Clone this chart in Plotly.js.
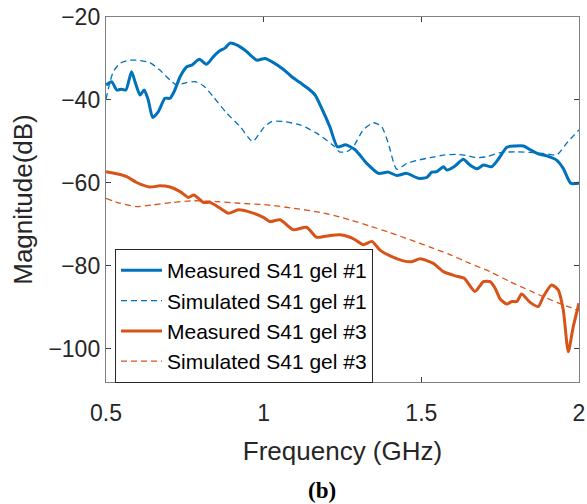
<!DOCTYPE html>
<html>
<head>
<meta charset="utf-8">
<script src="https://cdn.plot.ly/plotly-3.0.1.min.js"></script>
<style>html,body{margin:0;padding:0;background:#fff;}#chart{width:587px;height:504px;}</style>
</head>
<body>
<div id="chart"></div>
<script>
// Measured S41 gel #1
const meas1X = [0.500,0.518,0.534,0.550,0.563,0.581,0.592,0.608,0.621,0.634,0.648,0.666,0.687,0.703,0.716,0.735,0.756,0.772,0.796,0.819,0.840,0.862,0.877,0.893,0.914,0.941,0.978,1.004,1.031,1.062,1.089,1.115,1.142,1.163,1.184,1.210,1.234,1.260,1.290,1.327,1.364,1.395,1.422,1.454,1.491,1.517,1.533,1.549,1.570,1.581,1.607,1.633,1.654,1.676,1.697,1.723,1.744,1.771,1.797,1.824,1.845,1.871,1.898,1.929,1.950,1.974,2.000];
const meas1Y = [-36.4,-35.6,-37.6,-37.4,-37.6,-33.2,-35.6,-38.8,-37.6,-40,-44.2,-42.8,-39.6,-39.6,-38,-34.4,-32,-31.6,-30.2,-31.4,-29.6,-28.1,-27.5,-26.3,-26.7,-28,-30.4,-30,-31,-32.6,-34.4,-35.8,-37.3,-38.8,-42,-46.5,-51.3,-50.8,-52,-55.3,-57.7,-57.4,-58.2,-57.7,-58.9,-58.7,-57.4,-57.3,-56.1,-56.9,-55.9,-54.3,-55.7,-56.6,-55.7,-56.1,-54.3,-51.4,-51.1,-51.1,-52,-53,-53.5,-54.5,-56.5,-60.1,-60.1];

// Simulated S41 gel #1
const sim1X = [0.500,0.510,0.523,0.544,0.576,0.608,0.639,0.671,0.703,0.724,0.756,0.782,0.809,0.840,0.883,0.925,0.965,0.999,1.025,1.062,1.115,1.168,1.221,1.240,1.263,1.284,1.316,1.348,1.374,1.395,1.422,1.454,1.485,1.528,1.570,1.612,1.644,1.676,1.707,1.750,1.803,1.855,1.898,1.929,1.961,2.000];
const sim1Y = [-39.8,-36.5,-33.2,-31.2,-30.4,-30.5,-31,-32.8,-35.2,-36.4,-35.8,-35.6,-36.6,-39.2,-43.2,-46.4,-50,-46.8,-45.2,-45.2,-46,-48,-51.0,-52.5,-52.5,-51.3,-47.2,-45.5,-46.4,-50.4,-56.7,-55.3,-54.6,-53.9,-53.3,-53.1,-53.4,-53.9,-53.7,-52.7,-52.5,-52.7,-53,-53.3,-50.4,-47.2];

// Measured S41 gel #3
const meas3X = [0.500,0.534,0.566,0.597,0.640,0.671,0.703,0.735,0.761,0.779,0.809,0.830,0.862,0.888,0.920,0.967,0.999,1.020,1.052,1.094,1.136,1.168,1.200,1.242,1.274,1.290,1.316,1.343,1.369,1.401,1.443,1.470,1.496,1.538,1.570,1.607,1.636,1.670,1.697,1.718,1.734,1.750,1.771,1.787,1.803,1.818,1.845,1.871,1.887,1.913,1.934,1.950,1.966,1.982,2.000];
const meas3Y = [-57.3,-57.8,-58.5,-59.9,-61,-60.7,-61,-62.1,-63.5,-62.9,-64.7,-64.7,-66.1,-67.3,-66.5,-67.3,-68.3,-69.3,-68.9,-71.3,-70.7,-73.1,-72.8,-72.5,-73.1,-73.7,-74.9,-74.1,-76.2,-77.6,-78.8,-79.0,-78.3,-79.4,-81.4,-82.4,-83,-86.2,-83.8,-83.8,-85.4,-88,-89.2,-88.6,-88.6,-86.8,-88.8,-89.8,-87.4,-84.6,-85.8,-90.6,-100.7,-94.6,-89];

// Simulated S41 gel #3
const sim3X = [0.500,0.544,0.597,0.650,0.713,0.777,0.851,0.925,1.010,1.094,1.179,1.240,1.274,1.337,1.401,1.464,1.528,1.591,1.654,1.718,1.781,1.845,1.898,1.950,2.000];
const sim3Y = [-63.7,-64.9,-65.7,-65.3,-64.7,-64.3,-64.5,-64.9,-65.3,-66.1,-67.1,-68.2,-68.9,-70.4,-72,-73.7,-75.5,-77.3,-79.4,-81.4,-83.8,-86,-87.8,-89.4,-90.8];

const names = ['Measured S41 gel #1','Simulated S41 gel #1','Measured S41 gel #3','Simulated S41 gel #3'];
const xTicks = [0.5, 1, 1.5, 2];
const xTickText = ['0.5', '1', '1.5', '2'];
const yTicks = [-100, -80, -60, -40, -20];

const blue = '#0072BD', orange = '#D95319';
const font = 'Liberation Sans, Arial, sans-serif';

const traces = [
  {x: meas1X, y: meas1Y, name: names[0], mode: 'lines', line: {color: blue, width: 3, shape: 'spline', smoothing: 0.6}},
  {x: sim1X, y: sim1Y, name: names[1], mode: 'lines', line: {color: blue, width: 1.3, dash: '6px,4px', shape: 'spline', smoothing: 0.6}},
  {x: meas3X, y: meas3Y, name: names[2], mode: 'lines', line: {color: orange, width: 3, shape: 'spline', smoothing: 0.6}},
  {x: sim3X, y: sim3Y, name: names[3], mode: 'lines', line: {color: orange, width: 1.3, dash: '6px,4px', shape: 'spline', smoothing: 0.6}}
];

const layout = {
  width: 587, height: 504,
  margin: {l: 106, r: 8, t: 17, b: 122, pad: 0},
  paper_bgcolor: '#fff', plot_bgcolor: '#fff',
  font: {family: font, color: '#262626'},
  showlegend: true,
  legend: {
    x: 0.019, y: 0.364, xanchor: 'left', yanchor: 'top',
    bgcolor: '#fff', bordercolor: '#262626', borderwidth: 1,
    font: {family: font, size: 21, color: '#000'},
    itemwidth: 41,
    tracegroupgap: 0
  },
  xaxis: {
    range: [0.5, 2], tickvals: xTicks, ticktext: xTickText,
    showgrid: false, zeroline: false, showline: true, mirror: 'ticks',
    linecolor: '#808080', linewidth: 1.2, ticks: 'inside', ticklen: 5, tickcolor: '#404040',
    ticklabelstandoff: 10,
    tickfont: {family: font, size: 23, color: '#262626'},
    title: {text: 'Frequency (GHz)', font: {family: font, size: 26, color: '#262626'}, standoff: 17}
  },
  yaxis: {
    range: [-108, -20], tickvals: yTicks,
    showgrid: false, zeroline: false, showline: true, mirror: 'ticks',
    linecolor: '#808080', linewidth: 1.2, ticks: 'inside', ticklen: 5, tickcolor: '#404040',
    tickfont: {family: font, size: 23, color: '#262626'},
    title: {text: 'Magnitude(dB)', font: {family: font, size: 26, color: '#262626'}, standoff: 8}
  },
  annotations: [{
    text: '<b>(b)</b>', xref: 'paper', yref: 'paper', x: 0.4567, y: -0.296,
    xanchor: 'center', yanchor: 'middle', showarrow: false,
    font: {family: 'Liberation Serif, Times New Roman, serif', size: 23, color: '#000'}
  }]
};

Plotly.newPlot('chart', traces, layout, {displayModeBar: false, staticPlot: true});
</script>
</body>
</html>
